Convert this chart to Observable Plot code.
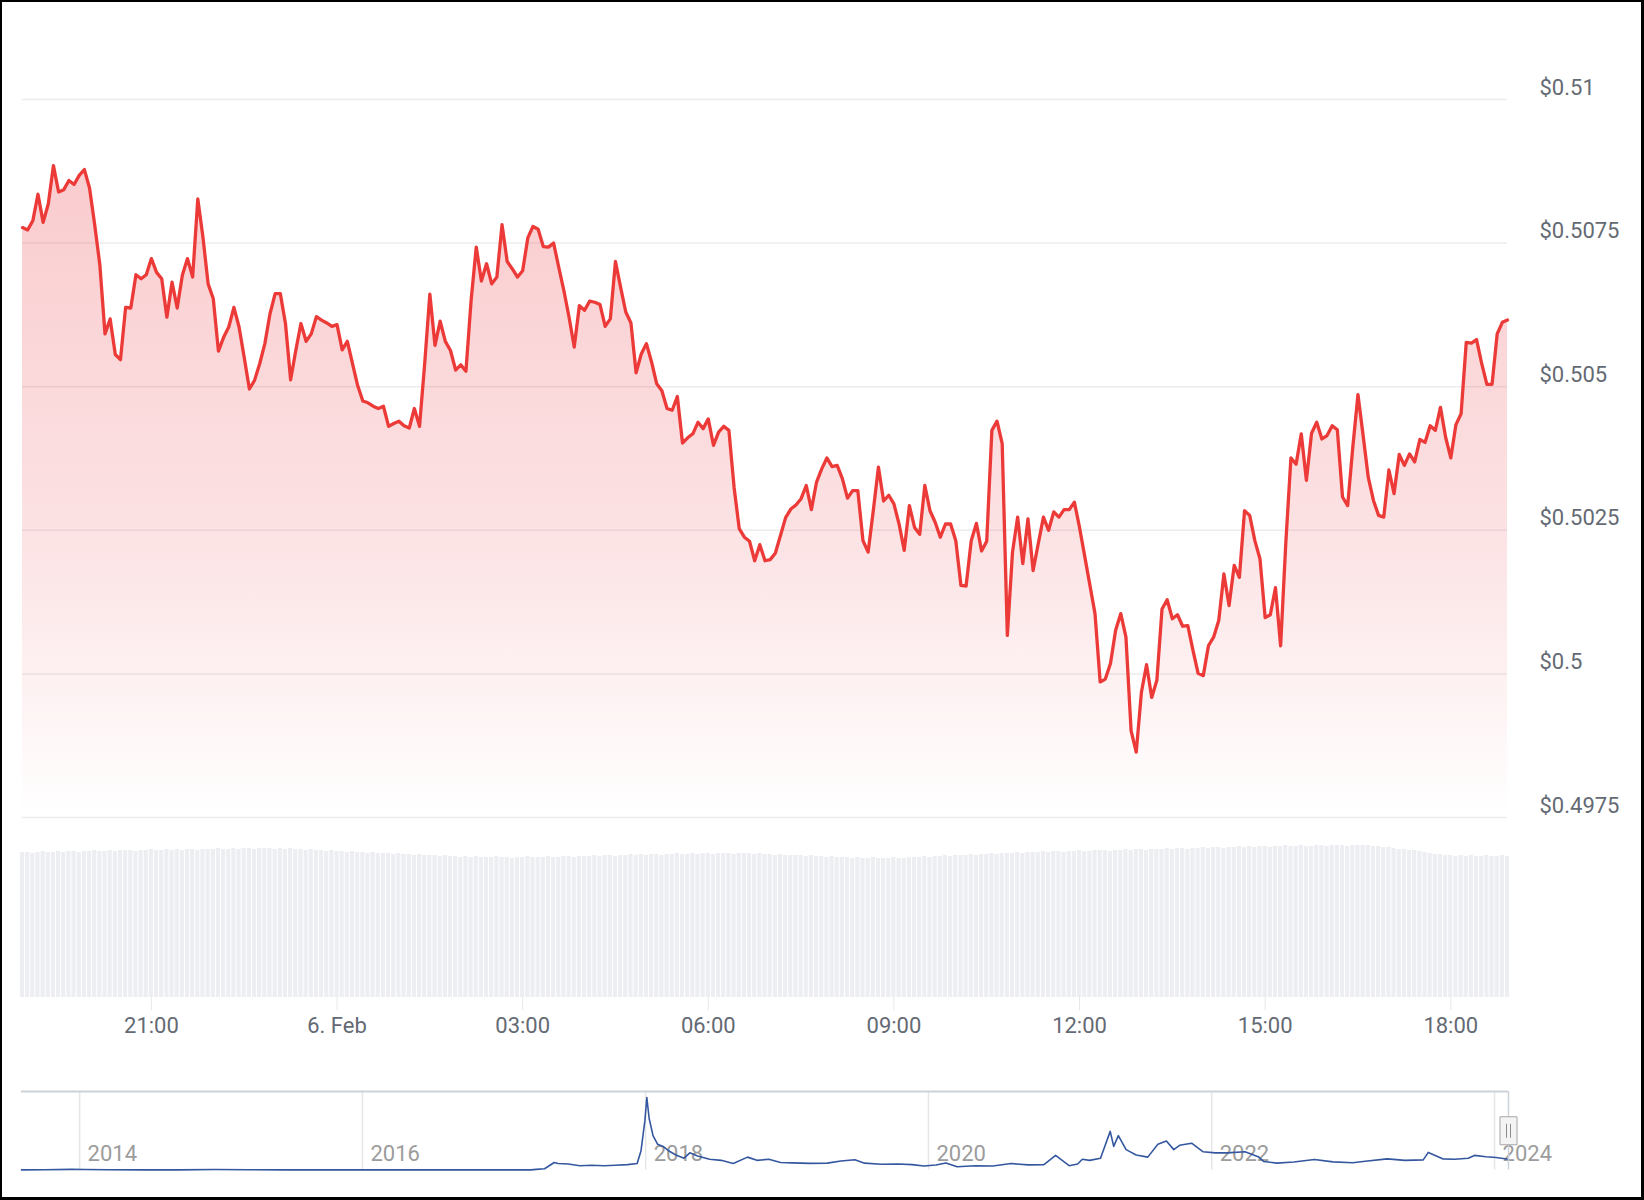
<!DOCTYPE html>
<html><head><meta charset="utf-8">
<script src="https://cdn.jsdelivr.net/npm/d3@7"></script>
<script src="https://cdn.jsdelivr.net/npm/@observablehq/plot@0.6"></script>
<style>
html,body{margin:0;padding:0;background:#fff;}
#wrap{position:relative;width:1644px;height:1200px;overflow:hidden;background:#fff;font-family:Roboto,sans-serif;}
#wrap svg{position:absolute;left:0;}
#frame{position:absolute;left:0;top:0;width:1644px;height:1200px;box-sizing:border-box;border:2px solid #000;border-right-width:3px;border-bottom-width:3px;pointer-events:none;}
</style></head><body>
<div id="wrap"><div id="frame"></div></div>
<script>
// ---- price series (5-minute steps, 24h) ----
const priceValues = [
0.50777,0.50773,0.50789,0.50835,0.50786,0.50818,0.50885,0.50839,0.50843,0.50859,
0.50852,0.50868,0.50878,0.50846,0.50782,0.50712,0.50592,0.50618,0.50556,0.50547,
0.50638,0.50637,0.50695,0.50688,0.50695,0.50723,0.50699,0.50688,0.50621,0.50682,
0.50637,0.50694,0.50723,0.50691,0.50827,0.50760,0.50679,0.50653,0.50562,0.50586,
0.50604,0.50638,0.50604,0.50551,0.50496,0.50511,0.50540,0.50575,0.50627,0.50662,
0.50662,0.50610,0.50512,0.50563,0.50610,0.50579,0.50592,0.50622,0.50616,0.50611,
0.50605,0.50608,0.50564,0.50579,0.50540,0.50502,0.50475,0.50472,0.50466,0.50462,
0.50466,0.50431,0.50436,0.50440,0.50432,0.50428,0.50462,0.50431,0.50540,0.50661,
0.50572,0.50614,0.50579,0.50563,0.50529,0.50538,0.50527,0.50650,0.50743,0.50684,
0.50714,0.50679,0.50691,0.50782,0.50718,0.50705,0.50691,0.50702,0.50759,0.50779,
0.50774,0.50744,0.50743,0.50750,0.50708,0.50667,0.50621,0.50569,0.50641,0.50633,
0.50649,0.50647,0.50643,0.50605,0.50618,0.50718,0.50673,0.50630,0.50611,0.50524,
0.50557,0.50575,0.50543,0.50505,0.50493,0.50462,0.50459,0.50483,0.50402,0.50411,
0.50418,0.50438,0.50427,0.50444,0.50398,0.50421,0.50431,0.50424,0.50325,0.50253,
0.50238,0.50231,0.50197,0.50225,0.50197,0.50199,0.50210,0.50241,0.50272,0.50287,
0.50294,0.50305,0.50328,0.50286,0.50334,0.50357,0.50376,0.50361,0.50363,0.50340,
0.50306,0.50319,0.50319,0.50232,0.50212,0.50284,0.50360,0.50301,0.50311,0.50296,
0.50261,0.50215,0.50293,0.50255,0.50243,0.50328,0.50284,0.50264,0.50238,0.50261,
0.50261,0.50232,0.50154,0.50153,0.50232,0.50262,0.50214,0.50231,0.50424,0.50440,
0.50401,0.50067,0.50212,0.50273,0.50192,0.50270,0.50180,0.50227,0.50273,0.50250,
0.50282,0.50273,0.50286,0.50286,0.50299,0.50255,0.50205,0.50155,0.50105,0.49986,
0.49991,0.50018,0.50076,0.50105,0.50064,0.49901,0.49864,0.49968,0.50016,0.49959,
0.49989,0.50113,0.50129,0.50096,0.50103,0.50083,0.50084,0.50041,0.50001,0.49997,
0.50049,0.50064,0.50093,0.50174,0.50119,0.50189,0.50168,0.50284,0.50276,0.50232,
0.50200,0.50098,0.50103,0.50150,0.50049,0.50227,0.50376,0.50365,0.50418,0.50337,
0.50419,0.50438,0.50409,0.50415,0.50432,0.50425,0.50308,0.50293,0.50395,0.50486,
0.50415,0.50342,0.50302,0.50276,0.50273,0.50355,0.50314,0.50382,0.50363,0.50383,
0.50369,0.50408,0.50403,0.50432,0.50424,0.50464,0.50412,0.50376,0.50434,0.50453,
0.50577,0.50576,0.50582,0.50540,0.50504,0.50504,0.50592,0.50612,0.50616
];
// ---- volume series (relative units, one bar per price point) ----
const volumeValues = [
145,145,144,145,146,145,145,146,145,146,
146,145,146,146,147,146,146,147,146,147,
147,147,146,147,147,148,147,147,148,147,
148,147,148,148,147,148,148,148,149,148,
148,149,148,149,149,148,149,149,149,148,
149,148,149,148,148,147,148,147,147,146,
147,146,146,145,146,145,145,144,145,144,
144,144,143,144,143,143,142,143,142,142,
142,141,142,141,141,140,141,140,141,140,
140,140,141,140,140,139,140,140,141,140,
140,140,141,140,140,141,141,140,141,141,
141,142,141,142,142,141,142,142,143,142,
143,142,143,143,142,143,143,144,143,143,
144,143,144,144,143,144,144,144,143,144,
144,144,143,144,143,143,142,143,142,142,
142,142,141,142,141,141,140,141,140,140,
140,139,140,139,139,140,139,139,139,140,
139,139,140,140,140,141,140,141,141,142,
141,142,142,142,143,142,143,143,144,143,
144,144,144,145,144,145,145,145,146,145,
146,146,145,146,146,147,146,146,147,147,
147,146,147,147,148,147,148,148,147,148,
148,148,149,148,149,149,148,149,149,150,
149,150,150,149,150,150,151,150,151,150,
151,151,150,151,151,152,151,151,152,151,
151,152,152,151,152,152,152,151,152,152,
152,152,151,151,150,150,149,148,148,147,
147,146,145,144,143,143,142,142,141,142,
141,142,141,141,142,141,141,142,141
];
const startTime = Date.UTC(2024, 1, 5, 18, 55);
const stepMs = 5 * 60 * 1000;

const yTicks = [0.4975, 0.5, 0.5025, 0.505, 0.5075, 0.51];
const yLabels = ["$0.4975", "$0.5", "$0.5025", "$0.505", "$0.5075", "$0.51"];

const xTickTimes = ["2024-02-05T21:00:00Z","2024-02-06T00:00:00Z","2024-02-06T03:00:00Z","2024-02-06T06:00:00Z","2024-02-06T09:00:00Z","2024-02-06T12:00:00Z","2024-02-06T15:00:00Z","2024-02-06T18:00:00Z"];
const xTickLabels = ["21:00", "6. Feb", "03:00", "06:00", "09:00", "12:00", "15:00", "18:00"];

// ---- navigator (all-time history) ----
const navDates = ["2013-08-04","2013-10-01","2013-12-10","2014-01-15","2014-03-15","2014-06-15","2014-09-15","2014-12-15","2015-03-15","2015-06-15","2015-09-15","2015-12-15","2016-03-15","2016-06-15","2016-09-15","2016-12-15","2017-03-10","2017-03-25","2017-04-15","2017-05-10","2017-05-20","2017-06-15","2017-07-15","2017-08-15","2017-09-15","2017-10-15","2017-11-15","2017-12-10","2017-12-20","2017-12-30","2018-01-04","2018-01-10","2018-01-20","2018-02-01","2018-02-15","2018-03-01","2018-03-20","2018-04-10","2018-04-25","2018-05-15","2018-06-15","2018-07-15","2018-08-15","2018-09-21","2018-10-15","2018-11-15","2018-12-15","2019-01-15","2019-03-01","2019-04-15","2019-05-20","2019-06-25","2019-07-20","2019-09-01","2019-10-15","2019-11-20","2019-12-20","2020-01-20","2020-02-15","2020-03-15","2020-05-01","2020-06-15","2020-08-01","2020-09-15","2020-10-25","2020-11-24","2020-12-29","2021-01-20","2021-02-01","2021-02-20","2021-03-20","2021-04-14","2021-04-23","2021-05-05","2021-05-25","2021-06-20","2021-07-20","2021-08-15","2021-09-06","2021-09-25","2021-10-10","2021-11-10","2021-12-10","2022-01-10","2022-02-10","2022-03-28","2022-05-01","2022-05-15","2022-06-18","2022-08-01","2022-09-23","2022-11-10","2022-12-31","2023-02-01","2023-03-30","2023-05-15","2023-07-01","2023-07-14","2023-08-20","2023-09-20","2023-10-25","2023-11-10","2023-12-10","2024-01-05","2024-02-06"];
const navValues = [0.005,0.012,0.03,0.025,0.015,0.008,0.005,0.025,0.01,0.008,0.007,0.006,0.007,0.006,0.007,0.006,0.008,0.03,0.06,0.35,0.3,0.28,0.2,0.22,0.2,0.22,0.25,0.3,0.9,2.3,3.38,2.4,1.6,1.2,1.1,0.9,0.7,0.55,0.8,0.65,0.5,0.45,0.3,0.6,0.45,0.5,0.35,0.33,0.31,0.32,0.42,0.48,0.32,0.27,0.28,0.25,0.19,0.23,0.33,0.15,0.2,0.19,0.3,0.24,0.25,0.68,0.2,0.28,0.5,0.45,0.55,1.8,1.1,1.6,0.95,0.7,0.6,1.2,1.35,0.95,1.15,1.25,0.85,0.8,0.8,0.85,0.62,0.4,0.32,0.37,0.49,0.38,0.34,0.41,0.52,0.45,0.47,0.82,0.52,0.5,0.55,0.68,0.62,0.58,0.5];
const navYears = ["2014-01-01","2016-01-01","2018-01-01","2020-01-01","2022-01-01","2024-01-01"];
const navYearLabels = ["2014", "2016", "2018", "2020", "2022", "2024"];
const navTop = 3.66;

// ---- build tables ----
const priceData = priceValues.map((v, i) => ({t: new Date(startTime + i * stepMs), v, vol: volumeValues[i]}));
const endTime = startTime + (priceValues.length - 1) * stepMs;
const xDomain = [new Date(startTime), new Date(endTime)];
const yLabelMap = new Map(yTicks.map((d, i) => [d, yLabels[i]]));
const xTickDates = xTickTimes.map(s => new Date(s));
const xLabelMap = new Map(xTickDates.map((d, i) => [+d, xTickLabels[i]]));
const navData = navDates.map((d, i) => ({date: new Date(d + "T00:00:00Z"), v: navValues[i]}));
const navYearDates = navYears.map(s => new Date(s + "T00:00:00Z"));
const navStart = navData[0].date, navEnd = navData[navData.length - 1].date;

const textColor = "#646a73";
const baseStyle = {fontFamily: "Roboto, sans-serif", fontSize: "22px", color: textColor, background: "transparent", overflow: "visible"};
const wrap = document.getElementById("wrap");
const frameEl = document.getElementById("frame");

// ---- price chart ----
const price = Plot.plot({
  width: 1644, height: 830,
  marginLeft: 22, marginRight: 137, marginTop: 99, marginBottom: 13,
  style: baseStyle,
  x: {type: "utc", domain: xDomain, axis: null},
  y: {domain: [d3.min(yTicks), d3.max(yTicks)], label: null},
  marks: [
    Plot.ruleY(yTicks, {stroke: "#ececec", strokeWidth: 1.5}),
    Plot.areaY(priceData, {x: "t", y1: d3.min(yTicks), y2: "v", fill: "url(#priceFill)"}),
    Plot.lineY(priceData, {x: "t", y: "v", stroke: "#eb3a37", strokeWidth: 3.3, strokeLinejoin: "round", strokeLinecap: "round"}),
    Plot.axisY({anchor: "right", label: null, ticks: yTicks, tickFormat: d => yLabelMap.get(d), tickSize: 0, tickPadding: 32, dy: -12, fill: textColor, fontSize: 22})
  ]
});
const ns = "http://www.w3.org/2000/svg";
const defs = document.createElementNS(ns, "defs");
defs.innerHTML = `<linearGradient id="priceFill" x1="0" y1="0" x2="0" y2="1">
  <stop offset="0" stop-color="#ea3943" stop-opacity="0.26"/>
  <stop offset="0.55" stop-color="#ea3943" stop-opacity="0.15"/>
  <stop offset="0.85" stop-color="#ea3943" stop-opacity="0.05"/>
  <stop offset="1" stop-color="#ea3943" stop-opacity="0.0"/>
</linearGradient>`;
price.insertBefore(defs, price.firstChild);
price.style.top = "0px";
wrap.insertBefore(price, frameEl);

// ---- volume bars + time axis ----
const volume = Plot.plot({
  width: 1644, height: 230,
  marginLeft: 22, marginRight: 137, marginTop: 7, marginBottom: 63,
  style: baseStyle,
  x: {type: "utc", domain: xDomain, label: null},
  y: {domain: [0, 160], axis: null},
  marks: [
    Plot.rectY(priceData, {x1: d => new Date(+d.t - stepMs / 2), x2: d => new Date(+d.t + stepMs / 2), y: "vol", fill: "#eceef2", insetLeft: 0.5, insetRight: 0.5}),
    Plot.axisX({label: null, ticks: xTickDates, tickFormat: d => xLabelMap.get(+d), tickSize: 13, tickPadding: 7, stroke: "#e6e8ec", fill: textColor, fontSize: 22})
  ]
});
volume.style.top = "830px";
wrap.insertBefore(volume, frameEl);

// ---- navigator ----
const handleBox = {draw(ctx) { ctx.rect(-8.5, -14, 17, 28); }};
const handleGrip = {draw(ctx) { ctx.moveTo(-2, -7); ctx.lineTo(-2, 7); ctx.moveTo(2, -7); ctx.lineTo(2, 7); }};
const nav = Plot.plot({
  width: 1644, height: 120,
  marginLeft: 21, marginRight: 136, marginTop: 11, marginBottom: 30.5,
  style: baseStyle,
  x: {type: "utc", domain: [navStart, navEnd], axis: null},
  y: {domain: [0, navTop], axis: null},
  marks: [
    Plot.ruleX(navYearDates, {stroke: "#e4e6ea", strokeWidth: 1.5}),
    Plot.text(navYearDates, {x: d => d, text: (d, i) => navYearLabels[i], frameAnchor: "bottom", lineAnchor: "middle", textAnchor: "start", dx: 8, dy: -16, fill: "#9c9c9c", fontSize: 22}),
    Plot.lineY(navData, {x: "date", y: "v", stroke: "#34579f", strokeWidth: 1.6}),
    Plot.ruleY([navTop], {stroke: "#cdd1d9", strokeWidth: 2}),
    Plot.ruleX([navEnd], {stroke: "#cdd1d9", strokeWidth: 1.5}),
    Plot.dot([navEnd], {x: d => d, frameAnchor: "middle", symbol: handleBox, fill: "#f4f4f4", stroke: "#a6a6a6", strokeWidth: 1}),
    Plot.dot([navEnd], {x: d => d, frameAnchor: "middle", symbol: handleGrip, fill: "none", stroke: "#8c8c8c", strokeWidth: 1})
  ]
});
nav.style.top = "1080px";
wrap.insertBefore(nav, frameEl);
</script>
</body></html>
